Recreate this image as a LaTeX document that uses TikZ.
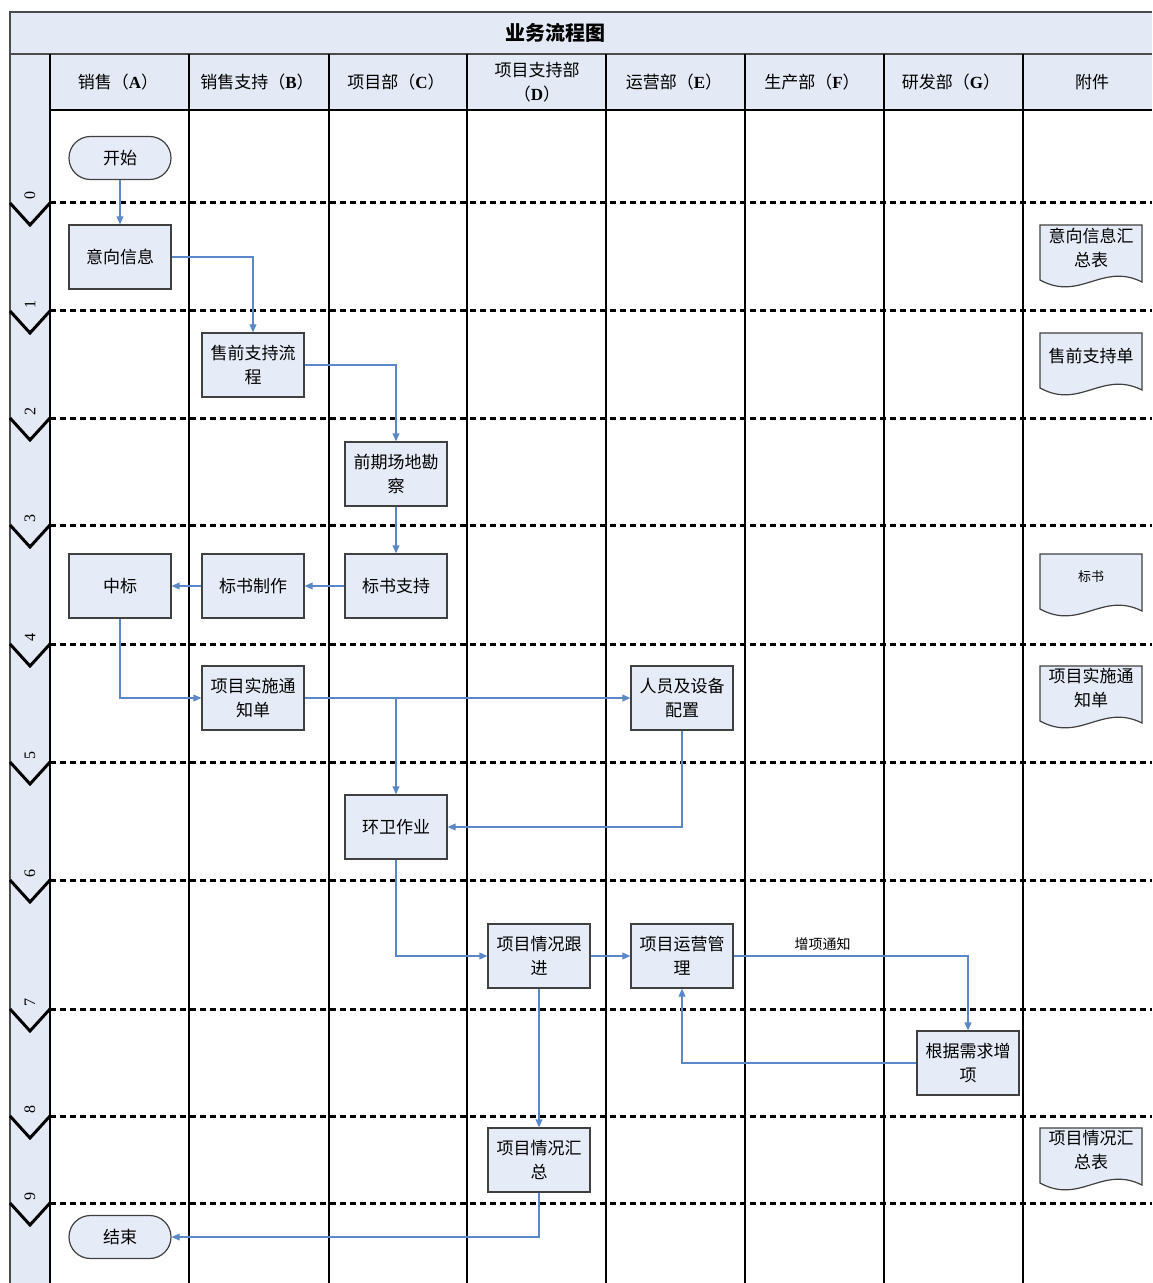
\documentclass[tikz,border=0pt]{standalone}
\usepackage{fontspec}
\setmainfont{Liberation Serif}
\newfontfamily\cjk{Noto Sans CJK SC}
\usetikzlibrary{arrows.meta}
\definecolor{boxfill}{HTML}{E6ECF7}
\definecolor{bandfill}{HTML}{E4EAF5}
\definecolor{flow}{HTML}{5A87C6}
\newcommand\hd[2]{{\cjk #1（}\textbf{#2}{\cjk ）}}
\newcommand\docshape[2]{\draw[docst] (#1,#2) -- (#1+102,#2) -- (#1+102,#2+57) .. controls (#1+62,#2+37) and (#1+40,#2+77) .. (#1,#2+55) -- cycle;}
\begin{document}
\begin{tikzpicture}[x=0.5pt,y=-0.5pt,
  proc/.style={draw=black!75, fill=boxfill, minimum width=51pt, minimum height=32pt, inner sep=0pt, align=center, font=\cjk\fontsize{8.5}{12}\selectfont, line width=0.6pt},
  term/.style={proc, minimum height=21.5pt, rounded corners=10.7pt},
  docst/.style={draw=black!75, fill=boxfill, line width=0.6pt},
  doctext/.style={align=center, inner sep=0pt, font=\cjk\fontsize{8.5}{12}\selectfont},
  arr/.style={draw=flow, line width=0.6pt, -{Triangle[length=4pt,width=3.4pt]}},
  lane/.style={draw=black, line width=0.75pt},
  stagedash/.style={draw=black, line width=1.5pt, dash pattern=on 3.2pt off 1.8pt},
  chev/.style={draw=black, line width=1.5pt},
  hdtext/.style={align=center, font=\fontsize{8.5}{12}\selectfont},
  stagelab/.style={rotate=90, font=\fontsize{8}{10}\selectfont, inner sep=0pt}
]
\useasboundingbox (0,0) rectangle (1152,1283);
% bands
\fill[bandfill] (10,12) rectangle (1152,54);
\fill[bandfill] (50,54) rectangle (1152,110);
\fill[bandfill] (10,54) rectangle (50,1283);
\draw[draw=black!70, line width=0.8pt] (1152,12) -- (10,12) -- (10,1283);
\draw[draw=black!70, line width=0.8pt] (10,54) -- (1152,54);
\draw[lane] (50,110) -- (1152,110);
\foreach \x in {50,189,329,467,606,745,884,1023} {\draw[lane] (\x,54) -- (\x,1283);}
% title and headers
\node[font=\cjk\bfseries\fontsize{10}{12}\selectfont] (title) at (555,33) {业务流程图};
\node[hdtext] (hA) at (118,82) {\hd{销售}{A}};
\node[hdtext] (hB) at (257,82) {\hd{销售支持}{B}};
\node[hdtext] (hC) at (396,82) {\hd{项目部}{C}};
\node[hdtext] (hD) at (537,82) {{\cjk 项目支持部}\\{\cjk （}\textbf{D}{\cjk ）}};
\node[hdtext] (hE) at (674,82) {\hd{运营部}{E}};
\node[hdtext] (hF) at (812,82) {\hd{生产部}{F}};
\node[hdtext] (hG) at (951,82) {\hd{研发部}{G}};
\node[hdtext] (hH) at (1092,82) {{\cjk 附件}};
% stage separators
\foreach \y/\n in {203/0,311/1,418/2,525/3,644/4,762/5,880/6,1009/7,1116/8,1203/9} {
  \draw[stagedash] (50,\y) -- (1152,\y);
  \draw[chev] (10,\y) -- (30,\y+22) -- (50,\y);
  \node[stagelab] (st\n) at (30,\y-7) {\n};
}
% nodes
\node[term] (start) at (120,158) {开始};
\node[proc] (yx) at (120,257) {意向信息};
\node[proc] (sq) at (253,365) {售前支持流\\程};
\node[proc] (qq) at (396,474) {前期场地勘\\察};
\node[proc] (bszc) at (396,586) {标书支持};
\node[proc] (bszz) at (253,586) {标书制作};
\node[proc] (zb) at (120,586) {中标};
\node[proc] (ss) at (253,698) {项目实施通\\知单};
\node[proc] (ry) at (682,698) {人员及设备\\配置};
\node[proc] (hw) at (396,827) {环卫作业};
\node[proc] (gj) at (539,956) {项目情况跟\\进};
\node[proc] (yy) at (682,956) {项目运营管\\理};
\node[proc] (zx) at (968,1063) {根据需求增\\项};
\node[proc] (hz) at (539,1160) {项目情况汇\\总};
\node[term] (end) at (120,1237) {结束};
% documents
\docshape{1040}{225}
\node[doctext] (d1) at (1091,248) {意向信息汇\\总表};
\docshape{1040}{333}
\node[doctext] (d2) at (1091,356) {售前支持单};
\docshape{1040}{554}
\node[doctext, font=\cjk\fontsize{6.5}{8}\selectfont] (d3) at (1091,577) {标书};
\docshape{1040}{666}
\node[doctext] (d4) at (1091,688) {项目实施通\\知单};
\docshape{1040}{1128}
\node[doctext] (d5) at (1091,1150) {项目情况汇\\总表};
% connectors
\draw[arr] (start) -- (yx);
\draw[arr] (yx.east) -| (sq.north);
\draw[arr] (sq.east) -| (qq.north);
\draw[arr] (qq) -- (bszc);
\draw[arr] (bszc) -- (bszz);
\draw[arr] (bszz) -- (zb);
\draw[arr] (zb.south) |- (ss.west);
\draw[arr] (ss.east) -- (ry.west);
\draw[arr] (hw.north |- ss.east) -- (hw.north);
\draw[arr] (ry.south) |- (hw.east);
\draw[arr] (hw.south) |- (gj.west);
\draw[arr] (gj) -- (yy);
\draw[arr] (yy.east) -| node[pos=0.19, above, font=\cjk\fontsize{7}{8}\selectfont, inner sep=2.5pt] (lbl) {增项通知} (zx.north);
\draw[arr] (zx.west) -| (yy.south);
\draw[arr] (gj) -- (hz);
\draw[arr] (hz.south) |- (end.east);
\end{tikzpicture}
\end{document}
